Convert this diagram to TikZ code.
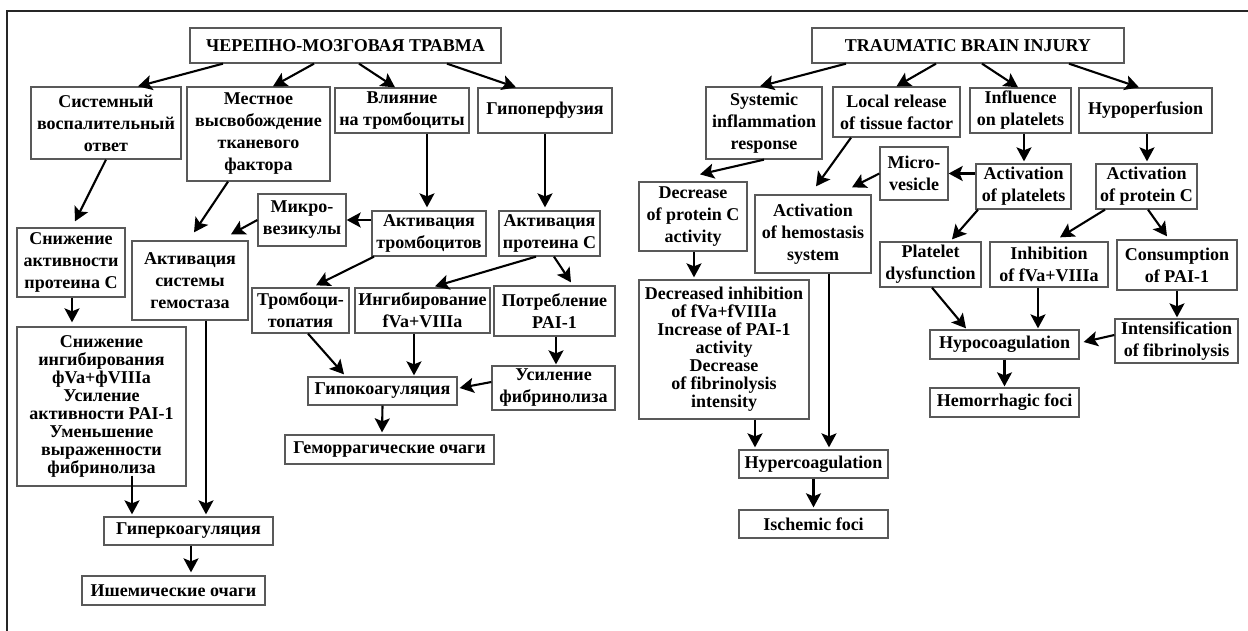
\documentclass[tikz,border=0pt]{standalone}
\usepackage{fontspec}
\setmainfont{Liberation Serif}
\usetikzlibrary{arrows.meta}
\tikzset{
  box/.style={draw=black!65, line width=1.3pt, inner sep=0pt, align=center, fill=white,
    font=\fontsize{18pt}{22pt}\selectfont\bfseries},
  bigbox/.style={box, font=\fontsize{18pt}{18pt}\selectfont\bfseries},
  arr/.style={line width=2.1pt, -{Stealth[length=14pt,width=15pt,inset=3pt]}},
  frameline/.style={line width=1.3pt, black!85}
}
\begin{document}
\begin{tikzpicture}[x=1pt,y=-1pt]
\useasboundingbox (0,0) rectangle (1248,631);
\fill[white] (0,0) rectangle (1248,631);
\coordinate (fa) at (7,631);
\coordinate (fb) at (7,11);
\coordinate (fc) at (1248,11);
\draw[frameline] (fa) -- (fb) -- (fc);

% ---------------- left (Russian) ----------------
\node[box,minimum width=311pt,minimum height=35pt] (t1) at (345.5,45.5) {ЧЕРЕПНО-МОЗГОВАЯ ТРАВМА};
\node[box,minimum width=150pt,minimum height=72pt] (sys) at (106,123) {Системный\\воспалительный\\ответ};
\node[box,minimum width=143pt,minimum height=94pt] (mest) at (258.5,134) {Местное\\высвобождение\\тканевого\\фактора};
\node[box,minimum width=134pt,minimum height=45pt] (vli) at (402,110.5) {Влияние\\на тромбоциты};
\node[box,minimum width=134pt,minimum height=45pt] (gip) at (545,110.5) {Гипоперфузия};
\node[box,minimum width=88pt,minimum height=52pt] (mikro) at (302,220) {Микро-\\везикулы};
\node[box,minimum width=114pt,minimum height=45pt] (akttr) at (429,233.5) {Активация\\тромбоцитов};
\node[box,minimum width=101pt,minimum height=45pt] (aktpr) at (549.5,233.5) {Активация\\протеина С};
\node[box,minimum width=108pt,minimum height=69pt] (snizh) at (71,262.5) {Снижение\\активности\\протеина С};
\node[box,minimum width=116pt,minimum height=79pt] (aktsys) at (190,280.5) {Активация\\системы\\гемостаза};
\node[box,minimum width=97pt,minimum height=45pt] (tromb) at (300.5,310.5) {Тромбоци-\\топатия};
\node[box,minimum width=135pt,minimum height=45pt] (ingib) at (422.5,310.5) {Ингибирование\\fVa+VIIIa};
\node[box,minimum width=121pt,minimum height=50pt] (potr) at (554.5,311) {Потребление\\PAI-1};
\node[bigbox,minimum width=169pt,minimum height=159pt] (big) at (101.5,406.5) {Снижение\\ингибирования\\фVa+фVIIIa\\Усиление\\активности PAI-1\\Уменьшение\\выраженности\\фибринолиза};
\node[box,minimum width=149pt,minimum height=28pt] (gipok) at (382.5,391) {Гипокоагуляция};
\node[box,minimum width=123pt,minimum height=44pt] (usil) at (553.5,388) {Усиление\\фибринолиза};
\node[box,minimum width=209pt,minimum height=29pt] (gem) at (389.5,449.5) {Геморрагические очаги};
\node[box,minimum width=169pt,minimum height=28pt] (giperk) at (188.5,531) {Гиперкоагуляция};
\node[box,minimum width=183pt,minimum height=29pt] (ishem) at (173.5,590.5) {Ишемические очаги};

\draw[arr] ([xshift=-122.5pt]t1.south) -- ([xshift=32pt]sys.north);
\draw[arr] ([xshift=-31.5pt]t1.south) -- ([xshift=14.5pt]mest.north);
\draw[arr] ([xshift=13.5pt]t1.south) -- ([xshift=-7pt]vli.north);
\draw[arr] ([xshift=101.5pt]t1.south) -- ([xshift=-29pt]gip.north);
\draw[arr] (sys.south) -- ([xshift=4pt,yshift=6pt]snizh.north);
\draw[arr] ([xshift=-30.5pt]mest.south) -- ([xshift=4pt,yshift=8pt]aktsys.north);
\draw[arr] (mikro.west) -- ([xshift=41pt,yshift=6pt]aktsys.north);
\draw[arr] (akttr.west |- mikro.east) -- (mikro.east);
\draw[arr] ([xshift=25pt]vli.south) -- ([xshift=-2pt,yshift=3pt]akttr.north);
\draw[arr] (gip.south) -- ([xshift=-4.5pt,yshift=3pt]aktpr.north);
\draw[arr] ([xshift=-55pt]akttr.south) -- ([xshift=15.5pt,yshift=2pt]tromb.north);
\draw[arr] ([xshift=-13.5pt]aktpr.south) -- ([xshift=12.5pt,yshift=1pt]ingib.north);
\draw[arr] ([xshift=4.5pt]aktpr.south) -- ([xshift=16.5pt,yshift=3pt]potr.north);
\draw[arr] ([xshift=1pt]snizh.south) -- ([xshift=-29.5pt,yshift=4pt]big.north);
\draw[arr] ([xshift=7.5pt]tromb.south) -- ([xshift=-38.5pt,yshift=2pt]gipok.north);
\draw[arr] ([xshift=-8.5pt]ingib.south) -- ([xshift=31.5pt,yshift=1pt]gipok.north);
\draw[arr] ([xshift=1.5pt]potr.south) -- ([xshift=2.5pt,yshift=1pt]usil.north);
\draw[arr] ([yshift=6pt]usil.west) -- ([xshift=2pt,yshift=3pt]gipok.east);
\draw[arr] (gipok.south) -- ([xshift=-7.5pt,yshift=2pt]gem.north);
\draw[arr] ([xshift=30.5pt,yshift=11pt]big.south) -- ([xshift=-56.5pt,yshift=2pt]giperk.north);
\draw[arr] ([xshift=16pt]aktsys.south) -- ([xshift=17.5pt,yshift=2pt]giperk.north);
\draw[arr] ([xshift=2.5pt]giperk.south) -- ([xshift=17.5pt,yshift=3pt]ishem.north);

% ---------------- right (English) ----------------
\node[box,minimum width=312pt,minimum height=35pt] (t2) at (968,45.5) {TRAUMATIC BRAIN INJURY};
\node[box,minimum width=116pt,minimum height=72pt] (rsys) at (764,123) {Systemic\\inflammation\\response};
\node[box,minimum width=127pt,minimum height=50pt] (rloc) at (896.5,112) {Local release\\of tissue factor};
\node[box,minimum width=101pt,minimum height=45pt] (rinf) at (1020.5,110.5) {Influence\\on platelets};
\node[box,minimum width=133pt,minimum height=45pt] (rhyp) at (1145.5,110.5) {Hypoperfusion};
\node[box,minimum width=68pt,minimum height=53pt] (rmic) at (914,173.5) {Micro-\\vesicle};
\node[box,minimum width=95pt,minimum height=45pt] (ractp) at (1023.5,186.5) {Activation\\of platelets};
\node[box,minimum width=101pt,minimum height=45pt] (ractc) at (1146.5,186.5) {Activation\\of protein C};
\node[box,minimum width=108pt,minimum height=69pt] (rdec) at (693,216.5) {Decrease\\of protein C\\activity};
\node[box,minimum width=116pt,minimum height=78pt] (rhem) at (813,234) {Activation\\of hemostasis\\system};
\node[box,minimum width=101pt,minimum height=45pt] (rpld) at (930.5,264.5) {Platelet\\dysfunction};
\node[box,minimum width=118pt,minimum height=45pt] (rinh) at (1049,264.5) {Inhibition\\of fVa+VIIIa};
\node[box,minimum width=120pt,minimum height=50pt] (rcon) at (1177,265) {Consumption\\of PAI-1};
\node[bigbox,minimum width=170pt,minimum height=139pt] (rbig) at (724,349.5) {Decreased inhibition\\of fVa+fVIIIa\\Increase of PAI-1\\activity\\Decrease\\of fibrinolysis\\intensity};
\node[box,minimum width=149pt,minimum height=29pt] (rhypo) at (1004.5,344.5) {Hypocoagulation};
\node[box,minimum width=123pt,minimum height=44pt] (rint) at (1176.5,341) {Intensification\\of fibrinolysis};
\node[box,minimum width=149pt,minimum height=29pt] (rhemf) at (1004.5,402.5) {Hemorrhagic foci};
\node[box,minimum width=149pt,minimum height=28pt] (rhyper) at (813.5,464) {Hypercoagulation};
\node[box,minimum width=149pt,minimum height=28pt] (risch) at (813.5,524) {Ischemic foci};

\draw[arr] ([xshift=-122pt]t2.south) -- ([xshift=-4pt]rsys.north);
\draw[arr] ([xshift=-32pt]t2.south) -- (rloc.north);
\draw[arr] ([xshift=14pt]t2.south) -- ([xshift=-2.5pt]rinf.north);
\draw[arr] ([xshift=101pt]t2.south) -- ([xshift=-6.5pt]rhyp.north);
\draw[arr] (rsys.south) -- ([xshift=7pt,yshift=7pt]rdec.north);
\draw[arr] ([xshift=-45.5pt]rloc.south) -- ([xshift=3pt,yshift=8pt]rhem.north);
\draw[arr] (rmic.west) -- ([xshift=39pt,yshift=7pt]rhem.north);
\draw[arr] (ractp.west |- rmic.east) -- (rmic.east);
\draw[arr] ([xshift=3.5pt]rinf.south) -- ([xshift=0.5pt,yshift=2pt]ractp.north);
\draw[arr] ([xshift=1.5pt]rhyp.south) -- ([xshift=0.5pt,yshift=2pt]ractc.north);
\draw[arr] ([xshift=-45.5pt]ractp.south) -- ([xshift=21.5pt,yshift=2pt]rpld.north);
\draw[arr] ([xshift=-41.5pt]ractc.south) -- ([xshift=11pt,yshift=4pt]rinh.north);
\draw[arr] ([xshift=1.5pt]ractc.south) -- ([xshift=-10pt,yshift=3pt]rcon.north);
\draw[arr] ([xshift=1pt]rdec.south) -- ([xshift=-30pt,yshift=2pt]rbig.north);
\draw[arr] ([xshift=1.5pt]rpld.south) -- ([xshift=-38.5pt,yshift=1pt]rhypo.north);
\draw[arr] ([xshift=-11pt]rinh.south) -- ([xshift=33.5pt,yshift=1pt]rhypo.north);
\draw[arr] (rcon.south) -- ([xshift=0.5pt,yshift=1pt]rint.north);
\draw[arr] ([yshift=6pt]rint.west) -- ([xshift=4pt,yshift=2.5pt]rhypo.east);
\draw[arr] (rhypo.south) -- ([yshift=1pt]rhemf.north);
\draw[arr] ([xshift=31pt]rbig.south) -- ([xshift=-58.5pt,yshift=2pt]rhyper.north);
\draw[arr] ([xshift=16pt]rhem.south) -- ([xshift=15.5pt,yshift=2pt]rhyper.north);
\draw[arr] (rhyper.south) -- ([yshift=2pt]risch.north);
\end{tikzpicture}
\end{document}
